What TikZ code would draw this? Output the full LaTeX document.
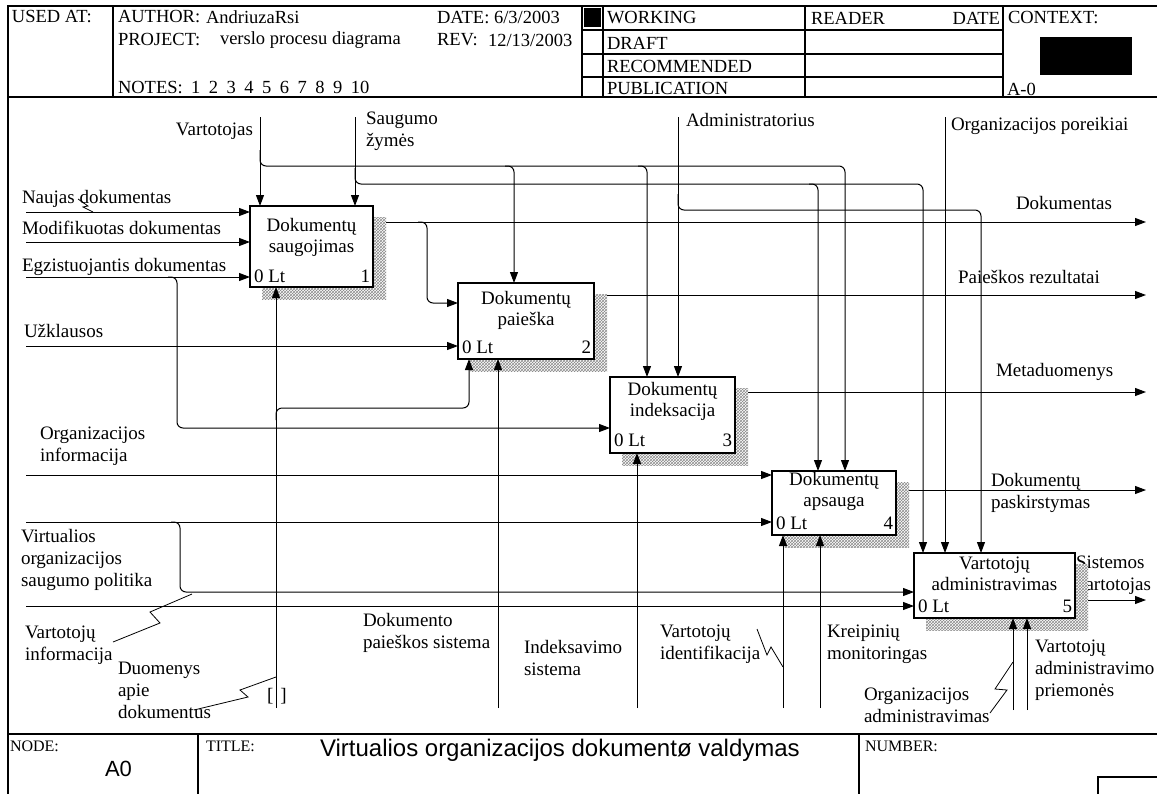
\documentclass[tikz,border=0pt]{standalone}
\usepackage{fontspec}
\setmainfont{Liberation Serif}
\newfontfamily\sansfam{Liberation Sans}
\usetikzlibrary{arrows.meta,patterns}
\newcommand\notesgap{\hspace{8.5pt}}
\begin{document}
\begin{tikzpicture}[x=1pt,y=-1pt,
  every node/.style={inner sep=0pt,outer sep=0pt},
  lbl/.style={font=\fontsize{19}{22}\selectfont,anchor=west,align=left},
  lblr/.style={lbl,anchor=east,align=right},
  lblc/.style={font=\fontsize{19}{21}\selectfont,align=center},
  hdr/.style={font=\fontsize{18.5}{20}\selectfont,anchor=west},
  foot/.style={font=\fontsize{16}{18}\selectfont,anchor=west},
  conn/.style={line width=1pt,rounded corners=6pt},
  arr/.style={conn,-{Triangle[length=11pt,width=8pt]}},
  zig/.style={line width=0.8pt},
  procbox/.style={anchor=north west},
  procdraw/.style={draw,line width=2.2pt,fill=white},
  shade/.style={fill=white,postaction={pattern=crosshatch,pattern color=black!45}},
  rule/.style={line width=1.1pt},
]
\useasboundingbox (0,0) rectangle (1157,793);
\fill[white] (0,0) rectangle (1157,793);

% ---------- activity boxes (placed first, outlined last) ----------
\node[procbox,minimum width=123pt,minimum height=81pt] (b1) at (250,206) {};
\node[procbox,minimum width=136pt,minimum height=76pt] (b2) at (458,283) {};
\node[procbox,minimum width=125pt,minimum height=76pt] (b3) at (610,377) {};
\node[procbox,minimum width=124pt,minimum height=64pt] (b4) at (772,471) {};
\node[procbox,minimum width=161pt,minimum height=65pt] (b5) at (914,553) {};

% ---------- frame and header ----------
\draw[rule] (8,800) -- (8,6) -- (1160,6);
\draw[rule] (8,97) -- (1160,97);
\draw[rule] (8,734) -- (1160,734);
\foreach \x in {113,582,603,805,1003} \draw[rule] (\x,6) -- (\x,97);
\foreach \y in {30,54,77} \draw[rule] (582,\y) -- (1003,\y);
\fill (584,8) rectangle (601,27);
\fill (1040,37) rectangle (1132,75);

\node[hdr] (hUsed) at (12,17) {USED AT:};
\node[hdr] (hAuth) at (118,17) {AUTHOR:};
\node[hdr] (hAuthV) at (206,17) {AndriuzaRsi};
\node[hdr] (hDate) at (437,17) {DATE: 6/3/2003};
\node[hdr] (hProj) at (118,40) {PROJECT:};
\node[hdr] (hProjV) at (220,40) {verslo procesu diagrama};
\node[hdr] (hRev) at (437,40) {REV:};
\node[hdr] (hRevV) at (488,40) {12/13/2003};
\node[hdr] (hNotes) at (118,87) {NOTES:\notesgap 1\notesgap 2\notesgap 3\notesgap 4\notesgap 5\notesgap 6\notesgap 7\notesgap 8\notesgap 9\notesgap 10};
\node[hdr] (hWork) at (607,18) {WORKING};
\node[hdr] (hDraft) at (607,43) {DRAFT};
\node[hdr] (hRec) at (607,66) {RECOMMENDED};
\node[hdr] (hPub) at (607,88) {PUBLICATION};
\node[hdr] (hReader) at (811,18) {READER};
\node[hdr,anchor=east] (hRDate) at (1000,18) {DATE};
\node[hdr] (hCtx) at (1008,18) {CONTEXT:};
\node[hdr] (hA) at (1007,89) {A-0};

% ---------- footer ----------
\draw[rule] (198,734) -- (198,800);
\draw[rule] (859,734) -- (859,800);
\draw[rule] (1098,777) rectangle (1170,800);
\node[foot] (fNode) at (10,746) {NODE:};
\node[font=\sansfam\fontsize{22}{24}\selectfont,anchor=west] (fA0) at (105,769) {A0};
\node[foot] (fTitle) at (206,746) {TITLE:};
\node[font=\sansfam\fontsize{24}{26}\selectfont,anchor=west] (fTitleV) at (320,750) {Virtualios organizacijos dokumentø valdymas};
\node[foot] (fNum) at (865,746) {NUMBER:};

% ---------- outputs (run under the box shadows) ----------
\coordinate (oD) at (1146,222);
\coordinate (oP) at (1146,295);
\coordinate (oM) at (1146,392);
\coordinate (oDp) at (1146,490);
\coordinate (oSv) at (1146,600);
\draw[arr] (b1.east |- oD) -- (oD);
\draw[arr] (418,222) -- (427,222) -- (427,303) -- (427,303 -| b2.west);
\draw[arr] (b2.east |- oP) -- (oP);
\draw[arr] (b3.east |- oM) -- (oM);
\draw[arr] (b4.east |- oDp) -- (oDp);
\draw[arr] (b5.east |- oSv) -- (oSv);
\node[lbl] (lSv) at (1076,575) {Sistemos\\vartotojas};

% ---------- shadows ----------
\foreach \b in {b1,b2,b3,b4,b5}
  \fill[shade] ([shift={(12,11)}]\b.north west) rectangle ([shift={(13,12)}]\b.south east);

% ---------- controls ----------
\coordinate (cV) at (260,117);
\coordinate (cS) at (355,117);
\coordinate (cA) at (678,117);
\coordinate (cO) at (945,117);
\draw[arr] (cV) -- (cV |- b1.north);
\draw[arr] (260,150) -- (260,166) -- (845,166) -- (845,0 |- b4.north);
\draw[arr] (505,166) -- (514,166) -- (514,0 |- b2.north);
\draw[arr] (638,166) -- (647,166) -- (647,0 |- b3.north);
\draw[arr] (cS) -- (cS |- b1.north);
\draw[arr] (355,168) -- (355,184) -- (923,184) -- (923,0 |- b5.north);
\draw[arr] (809,184) -- (818,184) -- (818,0 |- b4.north);
\draw[arr] (cA) -- (cA |- b3.north);
\draw[arr] (678,194) -- (678,210) -- (981,210) -- (981,0 |- b5.north);
\draw[arr] (cO) -- (cO |- b5.north);

% ---------- inputs ----------
\coordinate (iN) at (26,212);
\coordinate (iM) at (26,242);
\coordinate (iE) at (26,277);
\coordinate (iU) at (26,346);
\coordinate (iOi) at (26,475);
\coordinate (iVo) at (26,522);
\coordinate (iVi) at (26,606);
\draw[arr] (iN) -- (iN -| b1.west);
\draw[arr] (iM) -- (iM -| b1.west);
\draw[arr] (iE) -- (iE -| b1.west);
\draw[arr] (168,277) -- (177,277) -- (177,428) -- (177,428 -| b3.west);
\draw[arr] (iU) -- (iU -| b2.west);
\draw[arr] (iOi) -- (iOi -| b4.west);
\draw[arr] (iVo) -- (iVo -| b4.west);
\draw[arr] (171,522) -- (180,522) -- (180,592) -- (180,592 -| b5.west);
\draw[arr] (iVi) -- (iVi -| b5.west);

% ---------- mechanisms ----------
\coordinate (mD) at (276,708);
\coordinate (mP) at (498,708);
\coordinate (mI) at (637,708);
\coordinate (mVi) at (783,708);
\coordinate (mK) at (820,708);
\coordinate (mOa) at (1013,710);
\coordinate (mVa) at (1027,710);
\draw[arr] (mD) -- (mD |- b1.south);
\draw[arr] (276,420) -- (276,408) -- (469,408) -- (469,0 |- b2.south);
\draw[arr] (mP) -- (mP |- b2.south);
\draw[arr] (mI) -- (mI |- b3.south);
\draw[arr] (mVi) -- (mVi |- b4.south);
\draw[arr] (mK) -- (mK |- b4.south);
\draw[arr] (mOa) -- (mOa |- b5.south);
\draw[arr] (mVa) -- (mVa |- b5.south);
\node[lblc] (tun) at (277,696) {[\hspace{7pt}]};

% ---------- label squiggles ----------
\draw[zig] (78,199) -- (88,206) -- (83,207) -- (93,212);
\draw[zig] (113,642) -- (160,623) -- (150,612) -- (192,594);
\draw[zig] (194,710) -- (248,697) -- (240,690) -- (276,677);
\draw[zig] (757,629) -- (767,655) -- (771,647) -- (783,667);
\draw[zig] (990,713) -- (1007,690) -- (995,689) -- (1013,662);

% ---------- boxes on top ----------
\foreach \b in {b1,b2,b3,b4,b5}
  \draw[procdraw] (\b.north west) rectangle (\b.south east);

\node[lblc] (t1) at (311.5,237) {Dokumentų\\saugojimas};
\node[lblc] (t2) at (526,310) {Dokumentų\\paieška};
\node[lblc] (t3) at (672.5,401) {Dokumentų\\indeksacija};
\node[lblc] (t4) at (834,491) {Dokumentų\\apsauga};
\node[lblc] (t5) at (994.5,574) {Vartotojų\\administravimas};
\node[lbl] (n1) at (254,276) {0 Lt};
\node[lblr] (k1) at (370,276) {1};
\node[lbl] (n2) at (462,347) {0 Lt};
\node[lblr] (k2) at (591,347) {2};
\node[lbl] (n3) at (614,440) {0 Lt};
\node[lblr] (k3) at (732,440) {3};
\node[lbl] (n4) at (776,523) {0 Lt};
\node[lblr] (k4) at (893,523) {4};
\node[lbl] (n5) at (918,606) {0 Lt};
\node[lblr] (k5) at (1072,606) {5};

% ---------- arrow labels ----------
\node[lblr] (lV) at (253,131) {Vartotojas};
\node[lbl] (lS) at (366,131) {Saugumo\\žymės};
\node[lbl] (lA) at (686,120) {Administratorius};
\node[lbl] (lO) at (951,126) {Organizacijos poreikiai};
\node[lbl] (lD) at (1016,203) {Dokumentas};
\node[lbl] (lP) at (958,277) {Paieškos rezultatai};
\node[lbl] (lM) at (996,372) {Metaduomenys};
\node[lbl] (lDp) at (991,493) {Dokumentų\\paskirstymas};
\node[lbl] (lN) at (22,199) {Naujas dokumentas};
\node[lbl] (lMo) at (22,228) {Modifikuotas dokumentas};
\node[lbl] (lE) at (22,267) {Egzistuojantis dokumentas};
\node[lbl] (lU) at (24,331) {Užklausos};
\node[lbl] (lOi) at (40,446) {Organizacijos\\informacija};
\node[lbl] (lVo) at (21,560) {Virtualios\\organizacijos\\saugumo politika};
\node[lbl] (lVi) at (25,645) {Vartotojų\\informacija};
\node[lbl] (lDu) at (118,690) {Duomenys\\apie\\dokumentus};
\node[lbl] (lDps) at (363,633) {Dokumento\\paieškos sistema};
\node[lbl] (lIs) at (524,658) {Indeksavimo\\sistema};
\node[lbl] (lVid) at (660,644) {Vartotojų\\identifikacija};
\node[lbl] (lKm) at (827,644) {Kreipinių\\monitoringas};
\node[lbl] (lOa) at (864,705) {Organizacijos\\administravimas};
\node[lbl] (lVap) at (1035,670) {Vartotojų\\administravimo\\priemonės};
\end{tikzpicture}
\end{document}
